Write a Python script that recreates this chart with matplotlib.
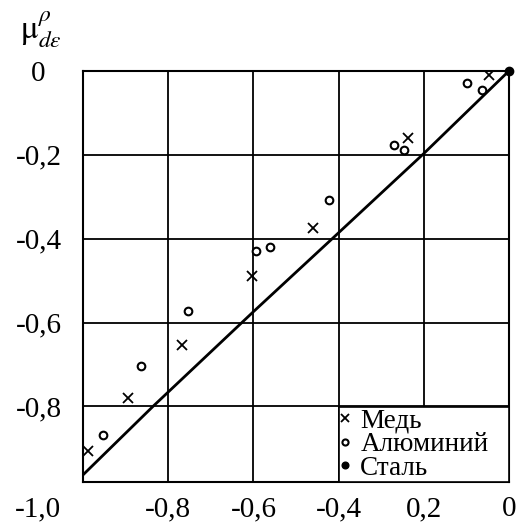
import matplotlib
matplotlib.use('Agg')
import matplotlib.pyplot as plt
import matplotlib.transforms as mtransforms
import numpy as np

plt.rcParams['font.family'] = ['Liberation Serif', 'DejaVu Serif']
plt.rcParams['mathtext.fontset'] = 'stix'

# data
copper_x = [-0.988, -0.894, -0.768, -0.603, -0.46, -0.237, -0.047]
copper_y = [-0.905, -0.781, -0.654, -0.49, -0.375, -0.16, -0.01]
alum_x = [-0.953, -0.864, -0.753, -0.595, -0.561, -0.423, -0.27, -0.246, -0.099, -0.063]
alum_y = [-0.869, -0.703, -0.572, -0.43, -0.419, -0.307, -0.176, -0.19, -0.03, -0.045]
steel_x = [0.0]
steel_y = [0.0]
line_x = [-1.0, -0.836, -0.6, -0.415, -0.2, 0.0]
line_y = [-0.963, -0.8, -0.574, -0.4, -0.197, 0.0]

xticks = [-1.0, -0.8, -0.6, -0.4, -0.2, 0.0]
xticklabels = ['-1,0', '-0,8', '-0,6', '-0,4', '0,2', '0']
yticks = [0.0, -0.2, -0.4, -0.6, -0.8]
yticklabels = ['0', '-0,2', '-0,4', '-0,6', '-0,8']

fig = plt.figure(figsize=(5.19, 5.32), dpi=100)
ax = fig.add_axes([0.16, 0.094, 0.821, 0.773])

ax.plot(line_x, line_y, color='k', lw=2.0, zorder=3)
ax.plot(copper_x, copper_y, ls='none', marker='x', ms=7, mew=1.3, color='k', label='Медь', zorder=4)
ax.plot(alum_x, alum_y, ls='none', marker='o', ms=5.5, mew=1.5, mfc='white', mec='k', label='Алюминий', zorder=4)
ax.plot(steel_x, steel_y, ls='none', marker='o', ms=6, color='k', label='Сталь', zorder=5, clip_on=False)

ax.set_xlim(-1.0, 0.0)
ax.set_ylim(-0.98, 0.0)
ax.set_xticks(xticks)
ax.set_xticklabels(xticklabels, fontsize=21)
ax.set_yticks(yticks)
ax.set_yticklabels(yticklabels, fontsize=21)
ax.tick_params(length=0)
ax.tick_params(axis='x', pad=10)
ax.tick_params(axis='y', pad=32)
for lab in ax.get_yticklabels():
    lab.set_horizontalalignment('center')
# the first x label sits further left in the original
first = ax.get_xticklabels()[0]
first.set_transform(first.get_transform() + mtransforms.ScaledTranslation(-0.45, 0, fig.dpi_scale_trans))

ax.grid(True, color='k', lw=1.3)
for s in ax.spines.values():
    s.set_linewidth(1.5)

ax.set_ylabel(r'$\mathrm{\mu}^{\rho}_{d\varepsilon}$', rotation=0, fontsize=24, va='center')
ax.yaxis.set_label_coords(-0.1, 1.1)

# legend box spans from the -0,4 grid line to the right edge
leg = ax.legend(loc='lower left', bbox_to_anchor=(0.6, 0.0, 0.4, 0.184), mode='expand',
                fontsize=19.5, frameon=True, fancybox=False,
                borderaxespad=0, handlelength=0.4, handletextpad=0.35,
                borderpad=0.05, labelspacing=-0.05, markerscale=0.8)
leg.get_frame().set_edgecolor('k')
leg.get_frame().set_linewidth(1.2)
leg.get_frame().set_alpha(1)

fig.savefig('out.png', dpi=100)
